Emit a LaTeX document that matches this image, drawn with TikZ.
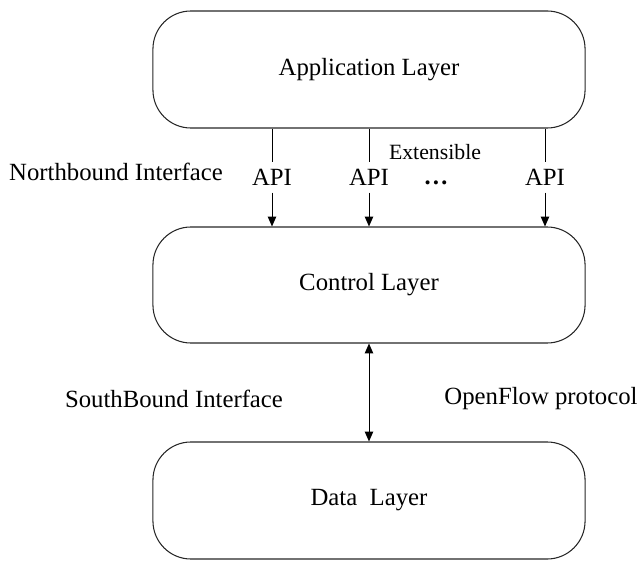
\documentclass[tikz,border=0pt]{standalone}
\usepackage{fontspec}
\setmainfont{Liberation Serif}
\usepackage{tikz}
\usetikzlibrary{arrows.meta}

\tikzset{
  layer/.style={shape=rectangle, draw=black!85, line width=0.75pt, rounded corners=0.95cm,
    minimum width=10.8cm, font=\fontsize{17.6}{20}\selectfont},
  api/.style={font=\fontsize{17.6}{20}\selectfont, inner xsep=1pt, inner ysep=4.7pt},
  note/.style={font=\fontsize{17.6}{20}\selectfont},
  link/.style={line width=0.7pt, -{Triangle[length=7pt, width=6pt]}},
  duplex/.style={line width=0.7pt, {Triangle[length=7pt, width=6pt]}-{Triangle[length=7pt, width=6pt]}}
}

\begin{document}
\begin{tikzpicture}[x=0.025cm, y=0.025cm]
  \useasboundingbox (0, 0) rectangle (643, 560);
  \node (app) at (369, 490.5) [layer, minimum height=2.925cm] {Application Layer};
  \node (ctrl) at (369, 275) [layer, minimum height=2.9cm] {Control Layer};
  \node (data) at (369, 59.5) [layer, minimum height=2.925cm] {Data~ Layer};
  \node (api1) at (272, 382.5) [api] {API};
  \node (api2) at (369, 382.5) [api] {API};
  \node (api3) at (545, 382.5) [api] {API};
  \node (dots) at (436, 377.5) [note, inner sep=0pt] {\textbf{…}};
  \node (ext) at (435, 407.5) [note, inner sep=1pt, font=\fontsize{15.5}{17}\selectfont] {Extensible};
  \node (nb) at (116, 388) [note] {Northbound Interface};
  \node (sb) at (174, 161) [note] {SouthBound Interface};
  \node (of) at (541, 161) [note] {OpenFlow protocol};
  \draw [line width=0.7pt] (app.south -| api1) -- (api1);
  \draw [line width=0.7pt] (app.south -| api2) -- (api2);
  \draw [line width=0.7pt] (app.south -| api3) -- (api3);
  \draw [link] (api1) -- (ctrl.north -| api1);
  \draw [link] (api2) -- (ctrl.north -| api2);
  \draw [link] (api3) -- (ctrl.north -| api3);
  \draw [duplex] (ctrl.south -| api2) -- (data.north -| api2);
\end{tikzpicture}
\end{document}
